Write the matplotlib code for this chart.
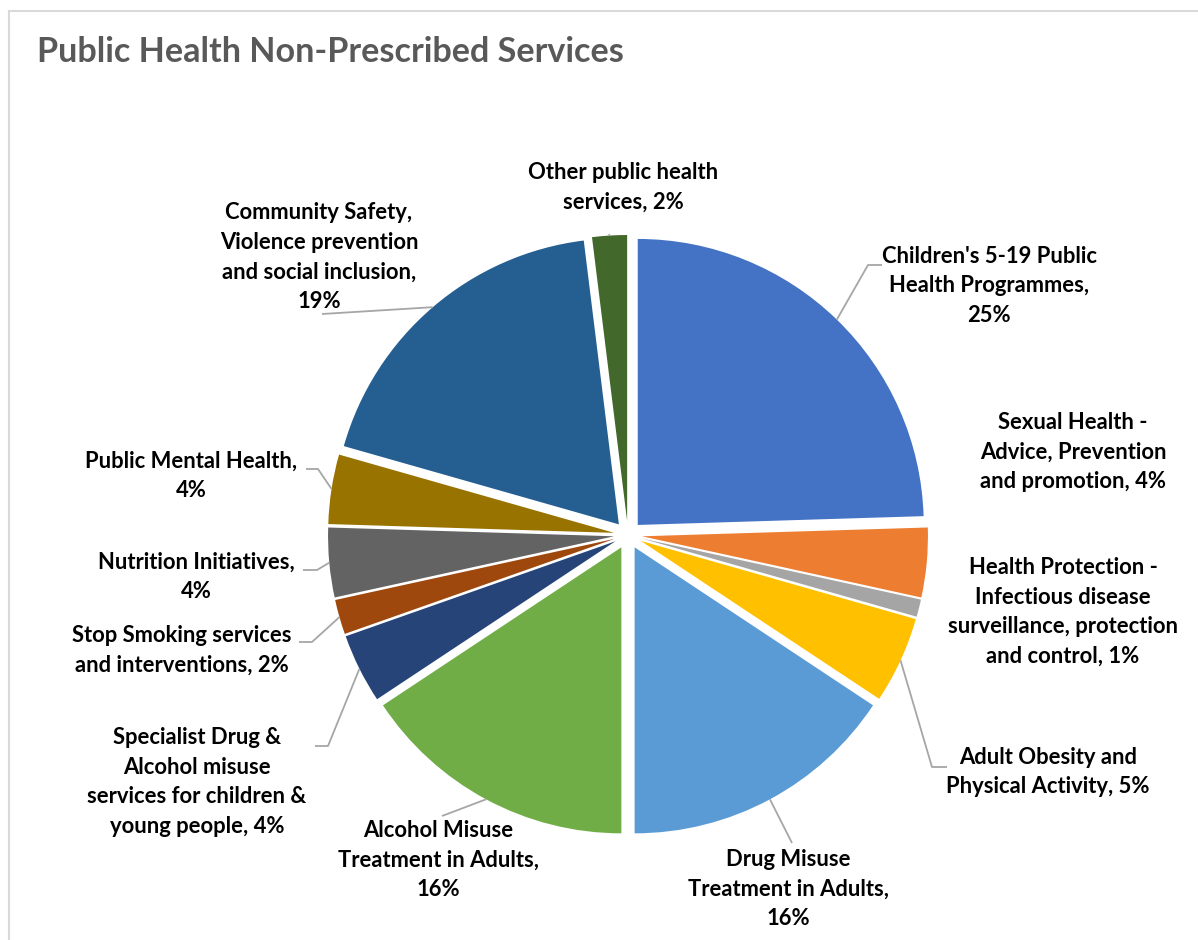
import numpy as np
import matplotlib.pyplot as plt
from matplotlib.lines import Line2D

# --- data ---
names = ["Children's 5-19 Public\nHealth Programmes",
         "Sexual Health -\nAdvice, Prevention\nand promotion",
         "Health Protection -\nInfectious disease\nsurveillance, protection\nand control",
         "Adult Obesity and\nPhysical Activity",
         "Drug Misuse\nTreatment in Adults",
         "Alcohol Misuse\nTreatment in Adults",
         "Specialist Drug &\nAlcohol misuse\nservices for children &\nyoung people",
         "Stop Smoking services\nand interventions",
         "Nutrition Initiatives",
         "Public Mental Health",
         "Community Safety,\nViolence prevention\nand social inclusion",
         "Other public health\nservices"]
pcts = [25, 4, 1, 5, 16, 16, 4, 2, 4, 4, 19, 2]
seps = [",\n", ", ", ", ", ", ", ",\n", ",\n", ", ", ", ", ",\n", ",\n", ",\n", ", "]
colors = ['#4472C4', '#ED7D31', '#A5A5A5', '#FFC000', '#5B9BD5', '#70AD47',
          '#264478', '#9E480E', '#636363', '#997300', '#255E91', '#43682B']

# --- layout (pixel coords, y down) ---
W, H = 1198, 940
cx, cy, R, gap = 628, 535, 286, 14
label_pos = [(989, 286), (1073, 452), (1063, 612), (1048, 772), (788, 889), (438, 860),
             (197, 782), (182, 650), (196, 577), (191, 476), (319, 257), (623, 187)]
# leader line points after the slice anchor (None = no leader)
leaders = [[(868, 265), (882, 265)], None, None, [(932, 767), (947, 767)],
           [(792, 843)], [(442, 816)], [(328, 746), (315, 746)], [(312, 642), (299, 642)],
           [(317, 570), (303, 570)], [(318, 469), (306, 469)], [(322, 314)], [(609, 234)]]

fig = plt.figure(figsize=(W / 100, H / 100), dpi=100)
ax = fig.add_axes([0, 0, 1, 1])

wedges, _ = ax.pie(pcts, colors=colors, startangle=90, counterclock=False,
                   center=(cx, H - cy), radius=R, explode=[gap] * len(pcts),
                   wedgeprops=dict(linewidth=0))
ax.set_xlim(0, W)
ax.set_ylim(0, H)
ax.set_aspect('equal')
ax.axis('off')

for w, name, p, sep, pos, lead in zip(wedges, names, pcts, seps, label_pos, leaders):
    ax.text(pos[0], H - pos[1], f"{name}{sep}{p}%", ha='center', va='center',
            fontsize=15.8, fontweight='bold', family='Lato', color='black', linespacing=1.5)
    if lead is None:
        continue
    mid = np.deg2rad((w.theta1 + w.theta2) / 2)
    ax_, ay_ = w.center[0] + w.r * np.cos(mid), w.center[1] + w.r * np.sin(mid)
    xs = [ax_] + [q[0] for q in lead]
    ys = [ay_] + [H - q[1] for q in lead]
    ax.plot(xs, ys, color='#A6A6A6', lw=1.3, solid_capstyle='butt')

# chart frame
fig.add_artist(Line2D([9 / W, 9 / W], [0, 1 - 11 / H], color='#D9D9D9', lw=1.5))
fig.add_artist(Line2D([9 / W, 1], [1 - 11 / H, 1 - 11 / H], color='#D9D9D9', lw=1.5))

fig.text(37 / W, 1 - 62 / H, 'Public Health Non-Prescribed Services', fontsize=24.6,
         fontweight='bold', family='Lato', color='#595959', va='baseline')

fig.savefig('out.png', dpi=100, facecolor='white')
